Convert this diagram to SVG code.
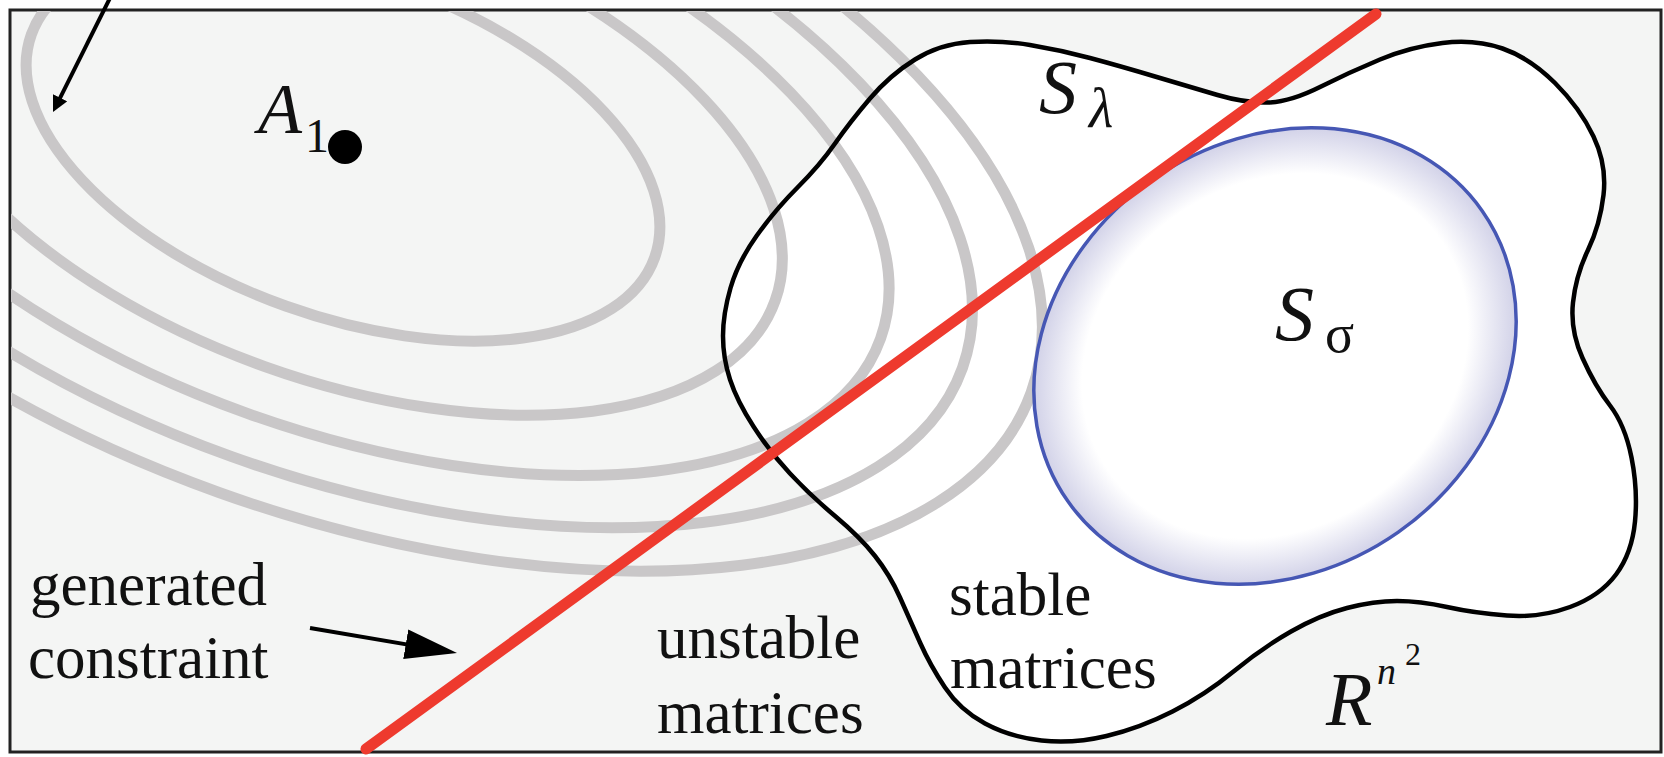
<svg xmlns="http://www.w3.org/2000/svg" width="1664" height="757" viewBox="0 0 1664 757">
<style>
.contour{fill:none;stroke:#c9c7c8;stroke-width:11}
.lbl{font-family:"Liberation Serif","Times New Roman",serif;fill:#111}
.it{font-style:italic}
.arrow{stroke:#000;stroke-width:4;fill:none}
</style>
<defs>
<clipPath id="frameClip"><rect x="11" y="11" width="1650" height="741"/></clipPath>
<radialGradient id="sigmaFill" cx="50%" cy="50%" r="50%">
<stop offset="0" stop-color="#ffffff"/>
<stop offset="0.8" stop-color="#ffffff"/>
<stop offset="1" stop-color="#d2d2e8"/>
</radialGradient>
<path id="blob" d="M723,336 Q723,314 730.5,288 Q738,262 756.5,236 Q775,210 797.5,187.5 Q820,165 835,143.5 Q850,122 870,98.5 Q890,75 915,59.5 Q940,44 970,42 Q1000,40 1030,45 Q1060,50 1090,58 Q1120,66 1155,76.5 Q1190,87 1217.5,95 Q1245,103 1267.5,102.5 Q1290,102 1320,87 Q1350,72 1380,59.5 Q1410,47 1442.5,43 Q1475,39 1502.5,48.5 Q1530,58 1555,83 Q1580,108 1593.5,136.5 Q1607,165 1603.5,195 Q1600,225 1588,250 Q1576,275 1573,302.5 Q1570,330 1582.5,358 Q1595,386 1610,405.5 Q1625,425 1631.5,457.5 Q1638,490 1635,521.5 Q1632,553 1616,574.5 Q1600,596 1570,607 Q1540,618 1507,615.5 Q1474,613 1447,607 Q1420,601 1397,601 Q1374,601 1347,608 Q1320,615 1291,631.5 Q1262,648 1233.5,671.5 Q1205,695 1172.5,711.5 Q1140,728 1106.5,736 Q1073,744 1041.5,740.5 Q1010,737 985,723.5 Q960,710 945,687.5 Q930,665 920,642.5 Q910,620 900,597.5 Q890,575 875,556 Q860,537 835,516 Q810,495 790,473.5 Q770,452 753.5,426.5 Q737,401 730,379.5 Q723,358 723,336 Z"/>
<marker id="headS" markerUnits="userSpaceOnUse" markerWidth="18" markerHeight="18" refX="8" refY="8" orient="auto"><path d="M0,0 L16,8 L0,16 z" fill="#000"/></marker>
<marker id="headL" markerUnits="userSpaceOnUse" markerWidth="54" markerHeight="32" refX="32" refY="15" orient="auto"><path d="M0,0 L52,15 L0,30 z" fill="#000"/></marker>
</defs>
<rect width="1664" height="757" fill="#ffffff"/>
<g id="frame">
<rect x="10" y="10" width="1651" height="742" fill="#f4f5f4" stroke="#222" stroke-width="3"/>
</g>
<g id="s-lambda-fill">
<use href="#blob" fill="#ffffff" stroke="none"/>
</g>
<g id="contours" clip-path="url(#frameClip)">
<g transform="rotate(19.7 343 146)">
<ellipse class="contour" cx="343" cy="146" rx="331" ry="170"/>
<ellipse class="contour" cx="343" cy="146" rx="459" ry="234"/>
<ellipse class="contour" cx="343" cy="146" rx="571" ry="284"/>
<ellipse class="contour" cx="343" cy="146" rx="658" ry="330"/>
<ellipse class="contour" cx="343" cy="146" rx="731" ry="368"/>
</g>
</g>
<g id="s-lambda">
<use href="#blob" fill="none" stroke="#000" stroke-width="4.5"/>
</g>
<g id="s-sigma">
<ellipse cx="1275" cy="356" rx="253" ry="215" transform="rotate(-35 1275 356)" fill="url(#sigmaFill)" stroke="#4657b4" stroke-width="3.5"/>
</g>
<g id="constraint-line">
<line x1="366" y1="749" x2="1376" y2="14" stroke="#ee3a2e" stroke-width="11" stroke-linecap="round"/>
</g>
<g id="point-a1">
<circle cx="345" cy="147" r="17"/>
<text class="lbl it" x="258" y="133" font-size="72">A</text>
<text class="lbl" x="305" y="152" font-size="48">1</text>
</g>
<g id="connectors">
<line class="arrow" x1="110" y1="-2" x2="56.6" y2="104.9" marker-end="url(#headS)"/>
<line class="arrow" x1="310" y1="628" x2="437.3" y2="649.6" marker-end="url(#headL)"/>
</g>
<g id="labels">
<text class="lbl" x="30" y="605" font-size="61">generated</text>
<text class="lbl" x="28" y="678" font-size="61">constraint</text>
<text class="lbl" x="657" y="658" font-size="61">unstable</text>
<text class="lbl" x="657" y="733" font-size="61">matrices</text>
<text class="lbl" x="949" y="615" font-size="61">stable</text>
<text class="lbl" x="950" y="688" font-size="61">matrices</text>
<text class="lbl it" x="1039" y="113" font-size="76">S</text>
<text class="lbl it" x="1089" y="127" font-size="56">λ</text>
<text class="lbl it" x="1275" y="340" font-size="78">S</text>
<text class="lbl" x="1325" y="352" font-size="54">σ</text>
<text class="lbl it" x="1326" y="725" font-size="76">R</text>
<text class="lbl it" x="1377" y="684" font-size="38">n</text>
<text class="lbl" x="1405" y="665" font-size="32">2</text>
</g>
</svg>
